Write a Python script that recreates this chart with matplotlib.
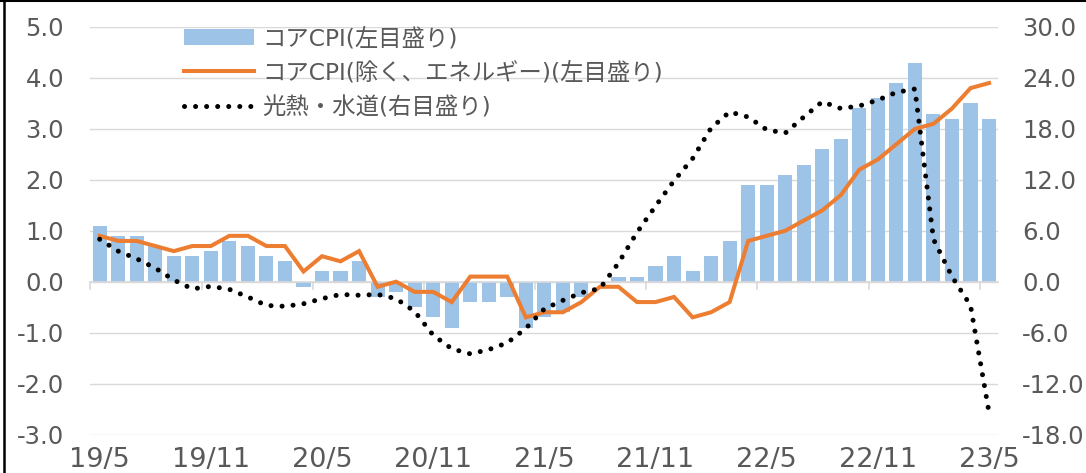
import matplotlib
matplotlib.use("Agg")
import matplotlib.pyplot as plt
import numpy as np
import pandas as pd
from matplotlib.lines import Line2D

plt.rcParams['font.family'] = ['DejaVu Sans', 'Noto Sans CJK JP']

# ---- data ----
months = pd.period_range('2019-05', '2023-05', freq='M')
tick_labels = ['19/5', '19/11', '20/5', '20/11', '21/5', '21/11', '22/5', '22/11', '23/5']

core_cpi = [1.1, 0.9, 0.9, 0.7, 0.5, 0.5, 0.6, 0.8, 0.7, 0.5,
            0.4, -0.1, 0.2, 0.2, 0.4, -0.3, -0.2, -0.5, -0.7, -0.9,
            -0.4, -0.4, -0.3, -0.9, -0.7, -0.6, -0.3, 0.0, 0.1, 0.1,
            0.3, 0.5, 0.2, 0.5, 0.8, 1.9, 1.9, 2.1, 2.3, 2.6,
            2.8, 3.4, 3.6, 3.9, 4.3, 3.3, 3.2, 3.5, 3.2]

core_ex_energy = [0.9, 0.8, 0.8, 0.7, 0.6, 0.7, 0.7, 0.9, 0.9, 0.7,
                  0.7, 0.2, 0.5, 0.4, 0.6, -0.1, 0.0, -0.2, -0.2, -0.4,
                  0.1, 0.1, 0.1, -0.7, -0.6, -0.6, -0.4, -0.1, -0.1, -0.4,
                  -0.4, -0.3, -0.7, -0.6, -0.4, 0.8, 0.9, 1.0, 1.2, 1.4,
                  1.7, 2.2, 2.4, 2.7, 3.0, 3.1, 3.4, 3.8, 3.9]

utilities = [5.0, 3.6, 2.7, 1.6, 0.2, -0.85, -0.55, -0.9, -1.8, -2.8,
             -2.9, -2.6, -2.0, -1.5, -1.6, -1.5, -2.0, -3.5, -6.3, -7.9,
             -8.5, -8.0, -7.2, -5.5, -3.2, -2.2, -1.3, -0.8, 2.2, 5.8,
             8.9, 11.9, 14.5, 18.1, 20.0, 19.4, 17.9, 17.5, 19.4, 21.2,
             20.4, 20.7, 21.4, 22.3, 22.7, 5.0, 0.6, -2.8, -15.4]

labels = ['コアCPI(左目盛り)',
          'コアCPI(除く、エネルギー)(左目盛り)',
          '光熱・水道(右目盛り)']

# ---- styling ----
W, H = 1086, 473
TXT = '#595959'
GRID = '#d9d9d9'
BAR = '#9DC3E6'
ORANGE = '#ED7D31'

fig = plt.figure(figsize=(W / 100, H / 100), dpi=100)
left_px, right_px, top_px, bot_px = 90.4, 998.3, 27.0, 434.5
ax = fig.add_axes([left_px / W, 1 - bot_px / H, (right_px - left_px) / W, (bot_px - top_px) / H])

x = np.arange(len(months))
bars = ax.bar(x, core_cpi, width=0.76, color=BAR, zorder=2, label=labels[0])
l1, = ax.plot(x, core_ex_energy, color=ORANGE, lw=2.9, zorder=3, solid_joinstyle='miter',
              label=labels[1])

ax.set_xlim(-0.5, len(months) - 0.5)
ax.set_ylim(-3, 5)
ax.set_yticks(np.arange(-3, 5.01, 1.0))
ax.set_yticklabels([f'{v:.1f}' for v in np.arange(-3, 5.01, 1.0)])
ax.yaxis.grid(True, color=GRID, lw=1.0)
ax.set_axisbelow(True)
ax.tick_params(axis='y', length=0, pad=19, labelsize=17.5, labelcolor=TXT)

for s in ['top', 'left', 'right']:
    ax.spines[s].set_visible(False)
ax.spines['bottom'].set_position(('data', 0))
ax.spines['bottom'].set_color(GRID)
ax.spines['bottom'].set_linewidth(1.2)
ax.set_xticks(np.arange(-0.5, len(months), 6))
ax.tick_params(axis='x', length=6, width=1.2, color=GRID, direction='out', labelbottom=False)

sec = ax.secondary_xaxis(0)
sec.set_xticks(np.arange(0, len(months), 6))
sec.set_xticklabels(tick_labels)
sec.tick_params(length=0, pad=9, labelsize=19.5, labelcolor=TXT)
for s in sec.spines.values():
    s.set_visible(False)

ax2 = ax.twinx()
l2, = ax2.plot(x, utilities, color='black', lw=3.6, linestyle=(0, (0.01, 2.2)),
               dash_capstyle='round', label=labels[2], zorder=4)
ax2.set_ylim(-18, 30)
ax2.set_yticks(np.arange(-18, 30.01, 6))
ax2.set_yticklabels([f'{v:.1f}' for v in np.arange(-18, 30.01, 6)])
ax2.tick_params(axis='y', length=0, pad=17, labelsize=17.5, labelcolor=TXT)
for s in ax2.spines.values():
    s.set_visible(False)

leg = ax2.legend([bars, l1, l2], labels, loc='upper left',
                 bbox_to_anchor=(184 / W, 1 - 27 / H), bbox_transform=fig.transFigure,
                 frameon=False, borderpad=0, borderaxespad=0,
                 handlelength=3.0, handletextpad=0.35, labelspacing=0.5,
                 prop={'family': ['DejaVu Sans', 'Noto Sans CJK JP'], 'size': 16.8})
for t in leg.get_texts():
    t.set_color(TXT)

# outer frame lines (left and top)
fig.add_artist(Line2D([4 / W, 4 / W], [0, 1], transform=fig.transFigure, color='black', lw=1.8))
fig.add_artist(Line2D([0, 1], [1 - 1 / H, 1 - 1 / H], transform=fig.transFigure, color='black', lw=1.5))

fig.savefig('out.png', dpi=100)
